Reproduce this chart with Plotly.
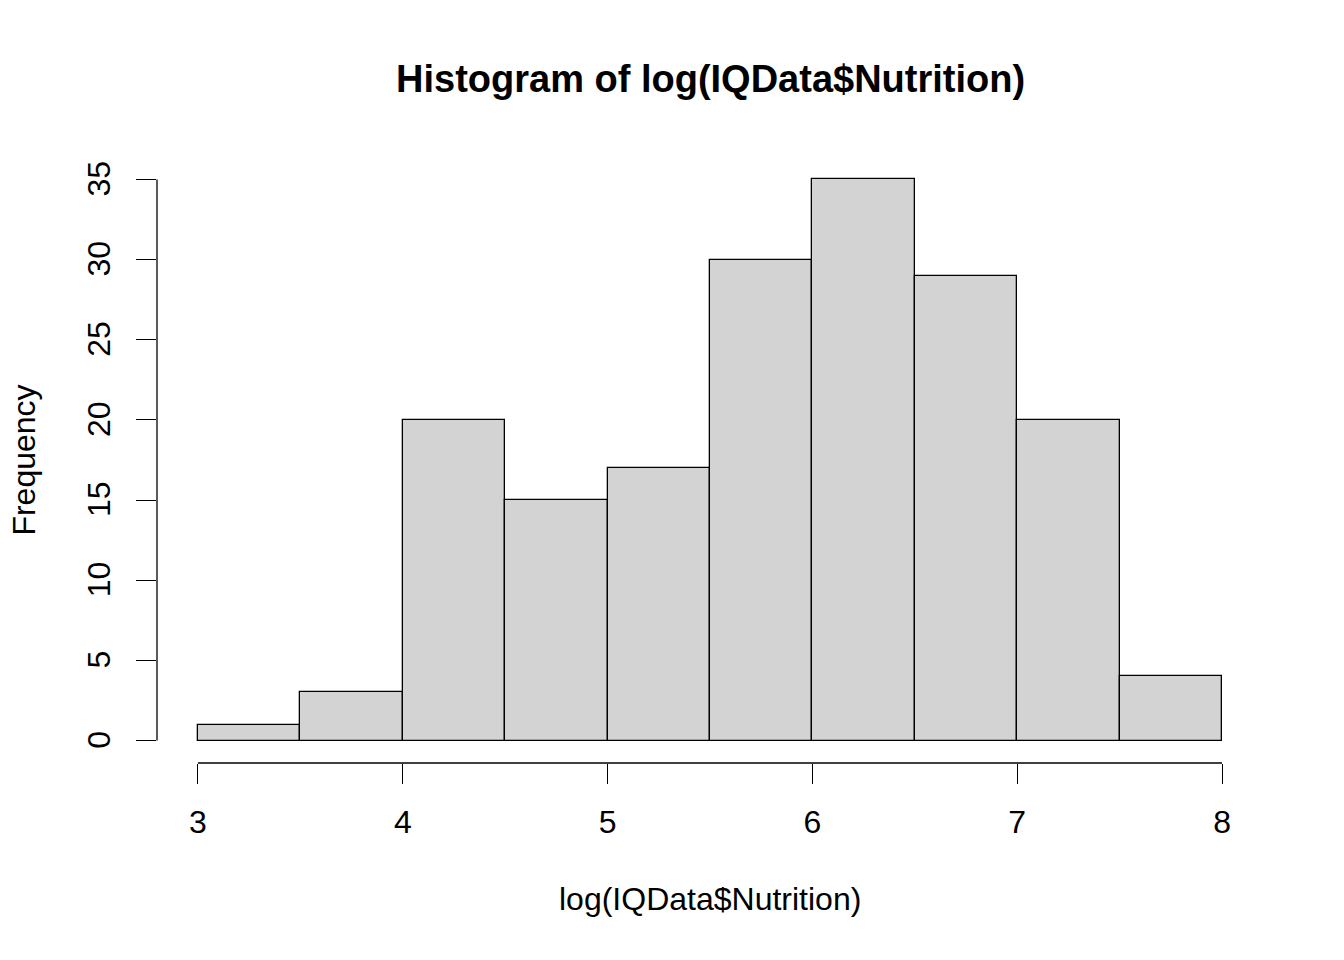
import plotly.graph_objects as go

# Data
bin_edges = [3.0, 3.5, 4.0, 4.5, 5.0, 5.5, 6.0, 6.5, 7.0, 7.5, 8.0]
counts = [1, 3, 20, 15, 17, 30, 35, 29, 20, 4]
x_ticks = [3, 4, 5, 6, 7, 8]
y_ticks = [0, 5, 10, 15, 20, 25, 30, 35]

centers = [(a + b) / 2 for a, b in zip(bin_edges[:-1], bin_edges[1:])]
widths = [b - a for a, b in zip(bin_edges[:-1], bin_edges[1:])]

W, H = 1344, 960
ML, MR, MT, MB = 157.4, 80.6, 157.4, 196.8
PW, PH = W - ML - MR, H - MT - MB
FONT = "Liberation Sans, Arial, sans-serif"
LW = 1.3


def px_x(px):  # page pixel -> paper
    return (px - ML) / PW


def px_y(py):
    return (H - MB - py) / PH


fig = go.Figure()
fig.add_trace(go.Bar(
    x=centers, y=counts, width=widths,
    marker=dict(color="#D3D3D3", line=dict(color="black", width=LW)),
    hoverinfo="skip", showlegend=False,
))

fig.update_layout(
    width=W, height=H,
    margin=dict(l=ML, r=MR, t=MT, b=MB, pad=0),
    paper_bgcolor="white", plot_bgcolor="white",
    font=dict(family=FONT, color="black", size=32),
    bargap=0,
    xaxis=dict(
        range=[2.8, 8.2], tickvals=x_ticks, ticktext=[str(v) for v in x_ticks],
        ticks="outside", ticklen=20, tickwidth=LW, tickcolor="black",
        showgrid=False, zeroline=False, showline=False,
        tickfont=dict(size=32, family=FONT), ticklabelstandoff=11,
    ),
    yaxis=dict(
        range=[-1.4, 36.4], tickvals=y_ticks, ticktext=[str(v) for v in y_ticks],
        ticks="outside", ticklen=20, tickwidth=LW, tickcolor="black",
        showgrid=False, zeroline=False, showline=False, tickangle=-90,
        tickfont=dict(size=32, family=FONT), ticklabelstandoff=13, ticklabelshift=4,
    ),
)

# R-style axis lines spanning the tick range only
fig.add_shape(type="line", xref="x", yref="paper", x0=x_ticks[0], x1=x_ticks[-1], y0=0, y1=0,
              line=dict(color="black", width=LW))
fig.add_shape(type="line", xref="paper", yref="y", x0=0, x1=0, y0=y_ticks[0], y1=y_ticks[-1],
              line=dict(color="black", width=LW))

fig.add_annotation(text="<b>Histogram of log(IQData$Nutrition)</b>", xref="paper", yref="paper",
                   x=0.5, y=px_y(79), xanchor="center", yanchor="middle", showarrow=False,
                   font=dict(size=38, family=FONT, color="black"))
fig.add_annotation(text="log(IQData$Nutrition)", xref="paper", yref="paper",
                   x=0.5, y=px_y(899), xanchor="center", yanchor="middle", showarrow=False,
                   font=dict(size=32, family=FONT, color="black"))
fig.add_annotation(text="Frequency", xref="paper", yref="paper", textangle=-90,
                   x=px_x(24), y=0.5, xanchor="center", yanchor="middle", showarrow=False,
                   font=dict(size=32, family=FONT, color="black"))

fig.write_html("out.html", config={"displayModeBar": False},
               post_script="document.body.style.margin='0';")
